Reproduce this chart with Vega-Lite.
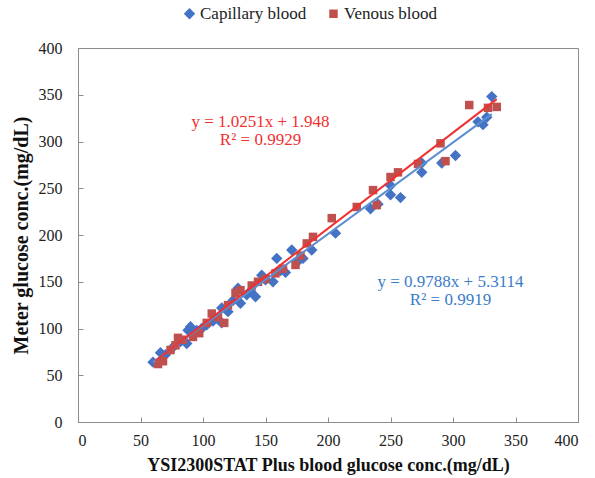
{
  "$schema": "https://vega.github.io/schema/vega-lite/v6.json",
  "width": 500,
  "height": 374,
  "autosize": {"type": "none"},
  "padding": {"left": 78, "top": 48, "right": 17, "bottom": 56},
  "background": "white",
  "config": {
    "view": {"stroke": "#8c8c8c", "strokeWidth": 1},
    "axis": {
      "grid": false,
      "domainColor": "#8c8c8c",
      "tickColor": "#8c8c8c",
      "tickSize": -5,
      "labelFont": "Liberation Serif",
      "labelFontSize": 16,
      "labelColor": "#222",
      "titleFont": "Liberation Serif",
      "titleFontWeight": "bold",
      "titleColor": "#111"
    },
    "legend": {
      "labelFont": "Liberation Serif",
      "labelFontSize": 17,
      "labelColor": "#222"
    }
  },
  "layer": [
    {
      "data": {
        "values": [
          {"series": "Capillary blood", "x": 60, "y": 64},
          {"series": "Capillary blood", "x": 66, "y": 74},
          {"series": "Capillary blood", "x": 70, "y": 72},
          {"series": "Capillary blood", "x": 76, "y": 80},
          {"series": "Capillary blood", "x": 82, "y": 86},
          {"series": "Capillary blood", "x": 87, "y": 84},
          {"series": "Capillary blood", "x": 88, "y": 98},
          {"series": "Capillary blood", "x": 90, "y": 102},
          {"series": "Capillary blood", "x": 95, "y": 98},
          {"series": "Capillary blood", "x": 99, "y": 100},
          {"series": "Capillary blood", "x": 103, "y": 104},
          {"series": "Capillary blood", "x": 108, "y": 108},
          {"series": "Capillary blood", "x": 112, "y": 110},
          {"series": "Capillary blood", "x": 115, "y": 106},
          {"series": "Capillary blood", "x": 115, "y": 122},
          {"series": "Capillary blood", "x": 120, "y": 118},
          {"series": "Capillary blood", "x": 124, "y": 130},
          {"series": "Capillary blood", "x": 128, "y": 143},
          {"series": "Capillary blood", "x": 130, "y": 127},
          {"series": "Capillary blood", "x": 135, "y": 136},
          {"series": "Capillary blood", "x": 138, "y": 140},
          {"series": "Capillary blood", "x": 142, "y": 134},
          {"series": "Capillary blood", "x": 147, "y": 157},
          {"series": "Capillary blood", "x": 150, "y": 152},
          {"series": "Capillary blood", "x": 156, "y": 150},
          {"series": "Capillary blood", "x": 159, "y": 175},
          {"series": "Capillary blood", "x": 162, "y": 162},
          {"series": "Capillary blood", "x": 166, "y": 160},
          {"series": "Capillary blood", "x": 171, "y": 184},
          {"series": "Capillary blood", "x": 176, "y": 172},
          {"series": "Capillary blood", "x": 180, "y": 175},
          {"series": "Capillary blood", "x": 187, "y": 184},
          {"series": "Capillary blood", "x": 206, "y": 202},
          {"series": "Capillary blood", "x": 234, "y": 228},
          {"series": "Capillary blood", "x": 240, "y": 233},
          {"series": "Capillary blood", "x": 250, "y": 243},
          {"series": "Capillary blood", "x": 250, "y": 253},
          {"series": "Capillary blood", "x": 258, "y": 240},
          {"series": "Capillary blood", "x": 275, "y": 277},
          {"series": "Capillary blood", "x": 275, "y": 267},
          {"series": "Capillary blood", "x": 291, "y": 277},
          {"series": "Capillary blood", "x": 302, "y": 285},
          {"series": "Capillary blood", "x": 320, "y": 321},
          {"series": "Capillary blood", "x": 324, "y": 318},
          {"series": "Capillary blood", "x": 327, "y": 326},
          {"series": "Capillary blood", "x": 331, "y": 348},
          {"series": "Venous blood", "x": 64, "y": 62},
          {"series": "Venous blood", "x": 68, "y": 65},
          {"series": "Venous blood", "x": 74, "y": 77},
          {"series": "Venous blood", "x": 78, "y": 82},
          {"series": "Venous blood", "x": 80, "y": 90},
          {"series": "Venous blood", "x": 84, "y": 88},
          {"series": "Venous blood", "x": 92, "y": 91},
          {"series": "Venous blood", "x": 97, "y": 95},
          {"series": "Venous blood", "x": 103, "y": 106},
          {"series": "Venous blood", "x": 107, "y": 116},
          {"series": "Venous blood", "x": 112, "y": 112},
          {"series": "Venous blood", "x": 117, "y": 106},
          {"series": "Venous blood", "x": 120, "y": 125},
          {"series": "Venous blood", "x": 126, "y": 138},
          {"series": "Venous blood", "x": 130, "y": 141},
          {"series": "Venous blood", "x": 139, "y": 146},
          {"series": "Venous blood", "x": 144, "y": 150},
          {"series": "Venous blood", "x": 150, "y": 153},
          {"series": "Venous blood", "x": 158, "y": 159},
          {"series": "Venous blood", "x": 164, "y": 164},
          {"series": "Venous blood", "x": 174, "y": 168},
          {"series": "Venous blood", "x": 178, "y": 178},
          {"series": "Venous blood", "x": 183, "y": 191},
          {"series": "Venous blood", "x": 188, "y": 198},
          {"series": "Venous blood", "x": 203, "y": 218},
          {"series": "Venous blood", "x": 223, "y": 230},
          {"series": "Venous blood", "x": 236, "y": 248},
          {"series": "Venous blood", "x": 239, "y": 232},
          {"series": "Venous blood", "x": 250, "y": 262},
          {"series": "Venous blood", "x": 256, "y": 267},
          {"series": "Venous blood", "x": 272, "y": 276},
          {"series": "Venous blood", "x": 290, "y": 298},
          {"series": "Venous blood", "x": 294, "y": 279},
          {"series": "Venous blood", "x": 313, "y": 339},
          {"series": "Venous blood", "x": 328, "y": 336},
          {"series": "Venous blood", "x": 335, "y": 337}
        ]
      },
      "mark": {"type": "point", "filled": true, "opacity": 1},
      "encoding": {
        "x": {
          "field": "x", "type": "quantitative",
          "scale": {"domain": [0, 400], "nice": false},
          "axis": {"values": [0, 50, 100, 150, 200, 250, 300, 350, 400], "title": "YSI2300STAT Plus blood glucose conc.(mg/dL)", "titleFontSize": 18, "labelPadding": 15, "titlePadding": 8}
        },
        "y": {
          "field": "y", "type": "quantitative",
          "scale": {"domain": [0, 400], "nice": false},
          "axis": {"values": [0, 50, 100, 150, 200, 250, 300, 350, 400], "title": "Meter glucose conc.(mg/dL)", "titleFontSize": 20, "labelPadding": 21, "titlePadding": 7}
        },
        "color": {
          "field": "series", "type": "nominal",
          "scale": {"domain": ["Capillary blood", "Venous blood"], "range": ["#4472C4", "#C0504D"]},
          "legend": {"title": null, "orient": "none", "direction": "horizontal", "legendX": 103, "legendY": -43, "columnPadding": 18, "labelOffset": 2}
        },
        "shape": {
          "field": "series", "type": "nominal",
          "scale": {"domain": ["Capillary blood", "Venous blood"], "range": ["diamond", "square"]},
          "legend": {"title": null, "orient": "none", "direction": "horizontal", "legendX": 103, "legendY": -43, "columnPadding": 18, "labelOffset": 2}
        },
        "size": {
          "field": "series", "type": "nominal",
          "scale": {"domain": ["Capillary blood", "Venous blood"], "range": [130, 72]},
          "legend": {"title": null, "orient": "none", "direction": "horizontal", "legendX": 103, "legendY": -43, "columnPadding": 18, "labelOffset": 2}
        }
      }
    },
    {
      "data": {"values": [{"x": 60, "y": 64.04}, {"x": 331, "y": 329.3}]},
      "mark": {"type": "line", "color": "#5B8FD0", "strokeWidth": 2},
      "encoding": {
        "x": {"field": "x", "type": "quantitative"},
        "y": {"field": "y", "type": "quantitative"}
      }
    },
    {
      "data": {"values": [{"x": 62, "y": 65.5}, {"x": 335, "y": 345.36}]},
      "mark": {"type": "line", "color": "#F03030", "strokeWidth": 2},
      "encoding": {
        "x": {"field": "x", "type": "quantitative"},
        "y": {"field": "y", "type": "quantitative"}
      }
    },
    {
      "data": {"values": [{"x": 146, "y": 321, "label": "y = 1.0251x + 1.948"}, {"x": 146, "y": 301.5, "label": "R² = 0.9929"}]},
      "mark": {"type": "text", "color": "#F03030", "font": "Liberation Serif", "fontSize": 17, "align": "center", "baseline": "middle"},
      "encoding": {
        "x": {"field": "x", "type": "quantitative"},
        "y": {"field": "y", "type": "quantitative"},
        "text": {"field": "label"}
      }
    },
    {
      "data": {"values": [{"x": 298, "y": 150, "label": "y = 0.9788x + 5.3114"}, {"x": 298, "y": 130.5, "label": "R² = 0.9919"}]},
      "mark": {"type": "text", "color": "#3A7CC8", "font": "Liberation Serif", "fontSize": 17, "align": "center", "baseline": "middle"},
      "encoding": {
        "x": {"field": "x", "type": "quantitative"},
        "y": {"field": "y", "type": "quantitative"},
        "text": {"field": "label"}
      }
    }
  ]
}
